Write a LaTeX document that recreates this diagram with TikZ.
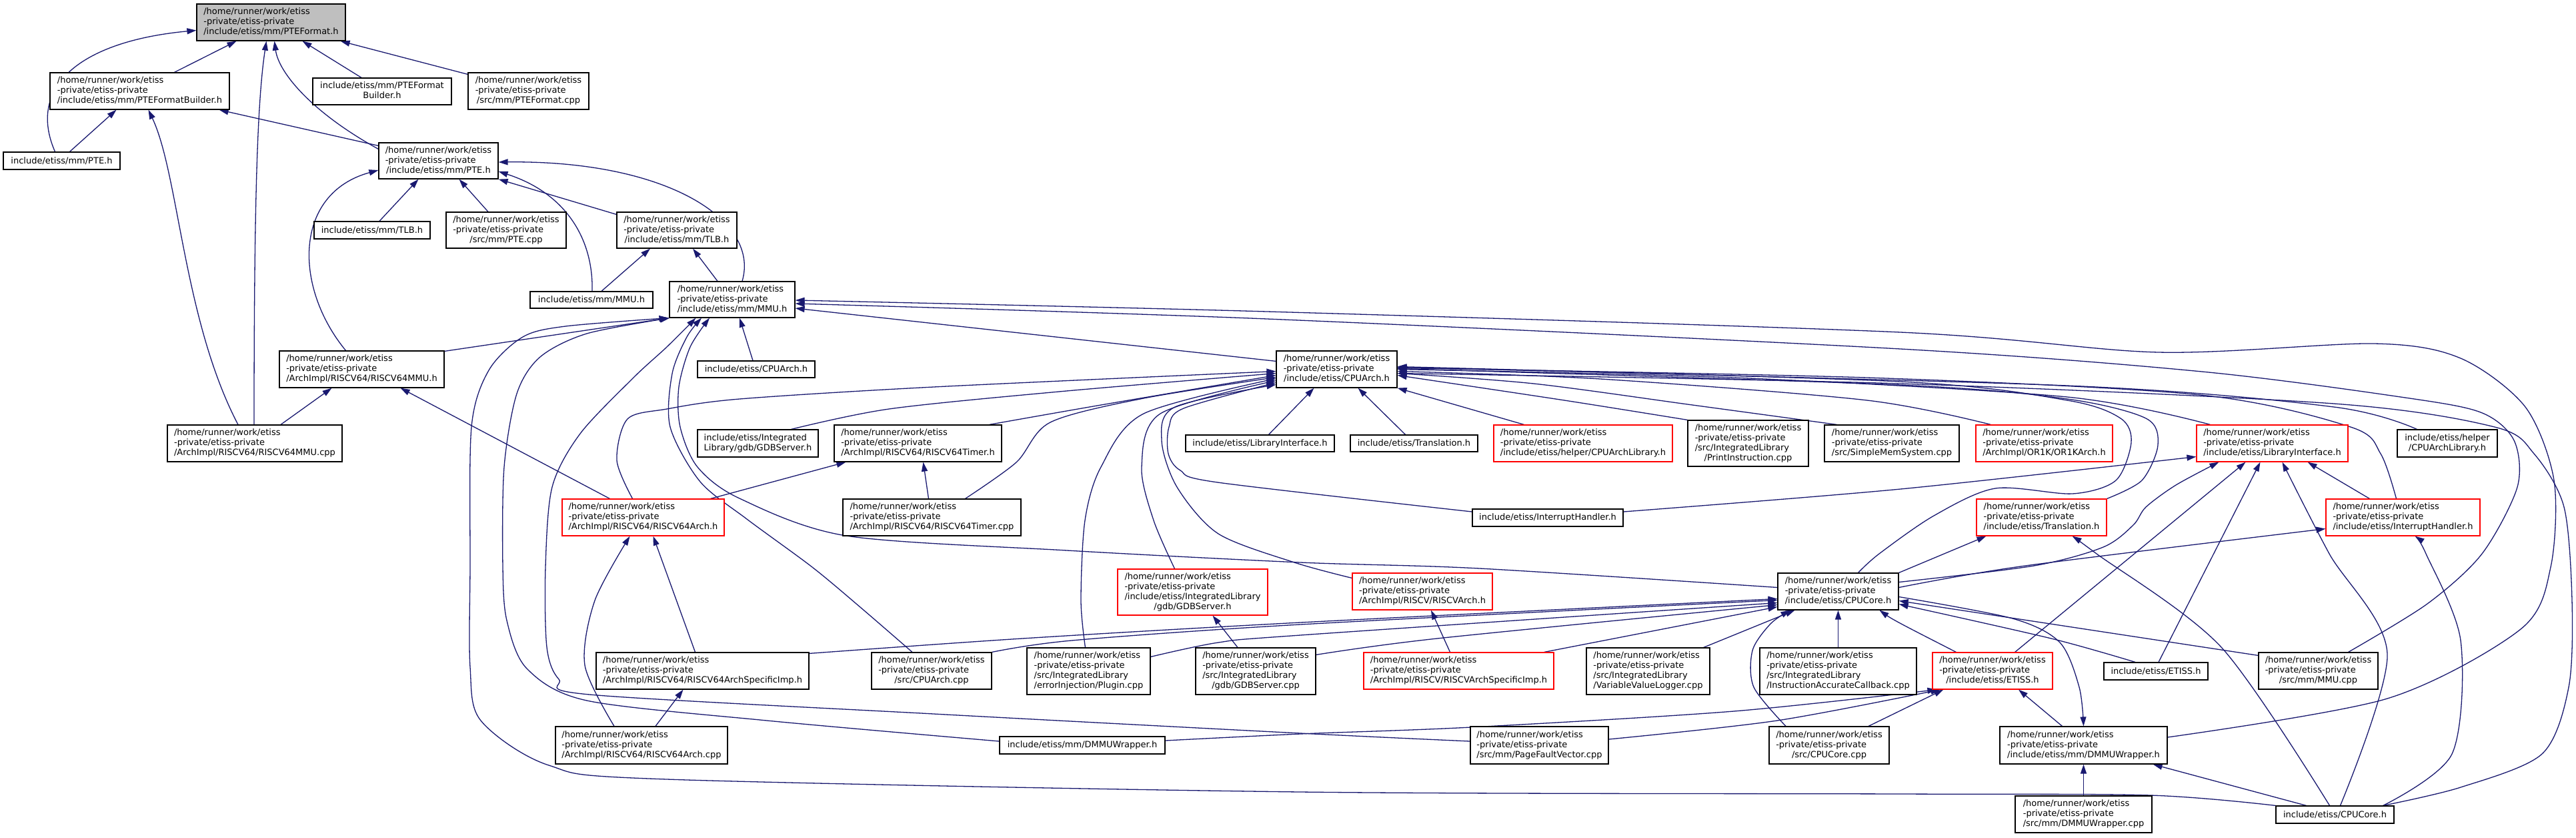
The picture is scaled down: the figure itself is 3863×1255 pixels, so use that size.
\documentclass[tikz,border=0pt]{standalone}
\usepackage{fontspec}
\setmainfont{DejaVu Sans}
\usetikzlibrary{arrows.meta,backgrounds}
\definecolor{edgeblue}{HTML}{191970}
\definecolor{boxgray}{HTML}{BFBFBF}
\newcommand{\nodefont}{\fontsize{13bp}{15bp}\selectfont}
\newcommand{\hp}{/home/runner/work/etiss\\-private/etiss-private}
\newcommand{\mlab}[2]{\begin{tabular}{@{}l@{}}#1\\\multicolumn{1}{@{}c@{}}{#2}\end{tabular}}
\tikzset{
  nb/.style={draw=black, line width=1.2bp, fill=white, inner sep=0pt, font=\nodefont},
  nr/.style={nb, draw=red},
  e/.style={color=edgeblue, line width=1.3bp, -{Triangle[length=14bp,width=9bp]}},
}
\begin{document}
\begin{tikzpicture}[x=1bp,y=-1bp]
\useasboundingbox (0,0) rectangle (3863,1255);
% nodes
\node[nb,fill=boxgray,minimum width=223bp,minimum height=55bp] (n1) at (406.5,33.5) {\mlab{\hp}{/include/etiss/mm/PTEFormat.h}};
\node[nb,minimum width=269bp,minimum height=55bp] (n2) at (209.5,136.5) {\mlab{\hp}{/include/etiss/mm/PTEFormatBuilder.h}};
\node[nb,minimum width=208bp,minimum height=40bp] (n3) at (573,137) {\mlab{include/etiss/mm/PTEFormat}{Builder.h}};
\node[nb,minimum width=181bp,minimum height=55bp] (n4) at (792.5,136.5) {\mlab{\hp}{/src/mm/PTEFormat.cpp}};
\node[nb,minimum width=175bp,minimum height=26bp] (n5) at (92.5,241) {include/etiss/mm/PTE.h};
\node[nb,minimum width=179bp,minimum height=54bp] (n6) at (657.5,241) {\mlab{\hp}{/include/etiss/mm/PTE.h}};
\node[nb,minimum width=174bp,minimum height=26bp] (n7) at (558,345) {include/etiss/mm/TLB.h};
\node[nb,minimum width=180bp,minimum height=54bp] (n8) at (759,345) {\mlab{\hp}{/src/mm/PTE.cpp}};
\node[nb,minimum width=180bp,minimum height=54bp] (n9) at (1015,345) {\mlab{\hp}{/include/etiss/mm/TLB.h}};
\node[nb,minimum width=184bp,minimum height=25bp] (n10) at (887,449.5) {include/etiss/mm/MMU.h};
\node[nb,minimum width=188bp,minimum height=54bp] (n11) at (1098,449) {\mlab{\hp}{/include/etiss/mm/MMU.h}};
\node[nb,minimum width=247bp,minimum height=55bp] (n12) at (542.5,553.5) {\mlab{\hp}{/ArchImpl/RISCV64/RISCV64MMU.h}};
\node[nb,minimum width=176bp,minimum height=25bp] (n13) at (1134,553.5) {include/etiss/CPUArch.h};
\node[nb,minimum width=181bp,minimum height=55bp] (n14) at (2004.5,553.5) {\mlab{\hp}{/include/etiss/CPUArch.h}};
\node[nb,minimum width=262bp,minimum height=55bp] (n15) at (382,664.5) {\mlab{\hp}{/ArchImpl/RISCV64/RISCV64MMU.cpp}};
\node[nb,minimum width=181bp,minimum height=41bp] (n16) at (1136.5,664.5) {\mlab{include/etiss/Integrated}{Library/gdb/GDBServer.h}};
\node[nb,minimum width=251bp,minimum height=55bp] (n17) at (1376.5,664.5) {\mlab{\hp}{/ArchImpl/RISCV64/RISCV64Timer.h}};
\node[nb,minimum width=223bp,minimum height=25bp] (n18) at (1889.5,664.5) {include/etiss/LibraryInterface.h};
\node[nb,minimum width=191bp,minimum height=25bp] (n19) at (2120.5,664.5) {include/etiss/Translation.h};
\node[nr,minimum width=268bp,minimum height=55bp] (n20) at (2374,664.5) {\mlab{\hp}{/include/etiss/helper/CPUArchLibrary.h}};
\node[nb,minimum width=181bp,minimum height=69bp] (n21) at (2621.5,664.5) {\mlab{\hp\\/src/IntegratedLibrary}{/PrintInstruction.cpp}};
\node[nb,minimum width=202bp,minimum height=55bp] (n22) at (2837,664.5) {\mlab{\hp}{/src/SimpleMemSystem.cpp}};
\node[nr,minimum width=205bp,minimum height=55bp] (n23) at (3065.5,664.5) {\mlab{\hp}{/ArchImpl/OR1K/OR1KArch.h}};
\node[nr,minimum width=227bp,minimum height=55bp] (n24) at (3407.5,664.5) {\mlab{\hp}{/include/etiss/LibraryInterface.h}};
\node[nb,minimum width=150bp,minimum height=41bp] (n25) at (3670,664.5) {\mlab{include/etiss/helper}{/CPUArchLibrary.h}};
\node[nr,minimum width=243bp,minimum height=55bp] (n26) at (964.5,775.5) {\mlab{\hp}{/ArchImpl/RISCV64/RISCV64Arch.h}};
\node[nb,minimum width=267bp,minimum height=55bp] (n27) at (1397.5,775.5) {\mlab{\hp}{/ArchImpl/RISCV64/RISCV64Timer.cpp}};
\node[nb,minimum width=226bp,minimum height=26bp] (n28) at (2321,776) {include/etiss/InterruptHandler.h};
\node[nr,minimum width=195bp,minimum height=55bp] (n29) at (3061.5,775.5) {\mlab{\hp}{/include/etiss/Translation.h}};
\node[nr,minimum width=231bp,minimum height=55bp] (n30) at (3603.5,775.5) {\mlab{\hp}{/include/etiss/InterruptHandler.h}};
\node[nr,minimum width=225bp,minimum height=69bp] (n31) at (1788.5,887.5) {\mlab{\hp\\/include/etiss/IntegratedLibrary}{/gdb/GDBServer.h}};
\node[nr,minimum width=210bp,minimum height=55bp] (n32) at (2133,886.5) {\mlab{\hp}{/ArchImpl/RISCV/RISCVArch.h}};
\node[nb,minimum width=181bp,minimum height=55bp] (n33) at (2756.5,886.5) {\mlab{\hp}{/include/etiss/CPUCore.h}};
\node[nb,minimum width=319bp,minimum height=55bp] (n34) at (1053.5,1005.5) {\mlab{\hp}{/ArchImpl/RISCV64/RISCV64ArchSpecificImp.h}};
\node[nb,minimum width=180bp,minimum height=55bp] (n35) at (1397,1005.5) {\mlab{\hp}{/src/CPUArch.cpp}};
\node[nb,minimum width=185bp,minimum height=70bp] (n36) at (1632.5,1006) {\mlab{\hp\\/src/IntegratedLibrary}{/errorInjection/Plugin.cpp}};
\node[nb,minimum width=180bp,minimum height=70bp] (n37) at (1883,1006) {\mlab{\hp\\/src/IntegratedLibrary}{/gdb/GDBServer.cpp}};
\node[nr,minimum width=285bp,minimum height=55bp] (n38) at (2187.5,1005.5) {\mlab{\hp}{/ArchImpl/RISCV/RISCVArchSpecificImp.h}};
\node[nb,minimum width=185bp,minimum height=70bp] (n39) at (2471.5,1006) {\mlab{\hp\\/src/IntegratedLibrary}{/VariableValueLogger.cpp}};
\node[nb,minimum width=235bp,minimum height=70bp] (n40) at (2756.5,1006) {\mlab{\hp\\/src/IntegratedLibrary}{/InstructionAccurateCallback.cpp}};
\node[nr,minimum width=180bp,minimum height=55bp] (n41) at (2988,1005.5) {\mlab{\hp}{/include/etiss/ETISS.h}};
\node[nb,minimum width=156bp,minimum height=26bp] (n42) at (3233,1006) {include/etiss/ETISS.h};
\node[nb,minimum width=179bp,minimum height=55bp] (n43) at (3476.5,1005.5) {\mlab{\hp}{/src/mm/MMU.cpp}};
\node[nb,minimum width=258bp,minimum height=56bp] (n44) at (962,1117) {\mlab{\hp}{/ArchImpl/RISCV64/RISCV64Arch.cpp}};
\node[nb,minimum width=248bp,minimum height=26bp] (n45) at (1623,1117) {include/etiss/mm/DMMUWrapper.h};
\node[nb,minimum width=207bp,minimum height=56bp] (n46) at (2308.5,1117) {\mlab{\hp}{/src/mm/PageFaultVector.cpp}};
\node[nb,minimum width=180bp,minimum height=56bp] (n47) at (2743,1117) {\mlab{\hp}{/src/CPUCore.cpp}};
\node[nb,minimum width=251bp,minimum height=56bp] (n48) at (3124.5,1117) {\mlab{\hp}{/include/etiss/mm/DMMUWrapper.h}};
\node[nb,minimum width=205bp,minimum height=55bp] (n49) at (3124.5,1220.5) {\mlab{\hp}{/src/mm/DMMUWrapper.cpp}};
\node[nb,minimum width=177bp,minimum height=26bp] (n50) at (3501.5,1221) {include/etiss/CPUCore.h};

\begin{pgfonlayer}{background}
\fill[white] (0,0) rectangle (3863,1255);
% into PTEFormat.h
\draw[e] ([xshift=-10bp]n5.north) .. controls (40,130) and (120,62) .. ([yshift=-12bp]n1.west);
\draw[e] ([xshift=52bp]n2.north) -- ([xshift=-52bp]n1.south);
\draw[e] ([xshift=-1bp]n15.north) .. controls (381,300) and (386,150) .. ([xshift=-7bp]n1.south);
\draw[e] ([yshift=-10bp]n6.north west) .. controls (470,170) and (418,110) .. ([xshift=5bp]n1.south);
\draw[e] ([xshift=-31bp]n3.north) -- ([xshift=47bp]n1.south);
\draw[e] ([yshift=-3bp]n4.north west) -- ([xshift=-8bp]n1.south east);
% into PTEFormatBuilder.h
\draw[e] ([xshift=12bp]n5.north) -- ([xshift=-35bp]n2.south);
\draw[e] ([xshift=-25bp]n15.north) .. controls (275,480) and (268,260) .. ([xshift=13bp]n2.south);
\draw[e] ([yshift=-5bp]n6.north west) -- ([xshift=-16bp]n2.south east);
% into PTE.h
\draw[e] ([xshift=-24bp]n12.north) .. controls (440,430) and (440,290) .. ([yshift=-14bp]n6.west);
\draw[e] ([xshift=11bp]n7.north) -- ([xshift=-30bp]n6.south);
\draw[e] ([xshift=-27bp]n8.north) -- ([xshift=31bp]n6.south);
\draw[e] ([yshift=-4bp]n9.north west) -- (n6.south east);
\draw[e] ([xshift=1bp]n10.north) .. controls (890,360) and (850,290) .. ([yshift=-16bp]n6.east);
\draw[e] ([xshift=15bp]n11.north) .. controls (1140,330) and (1000,240) .. ([yshift=-2bp]n6.east);
% into TLB.h
\draw[e] ([xshift=15bp]n10.north) -- ([xshift=-40bp]n9.south);
\draw[e] ([xshift=-22bp]n11.north) -- ([xshift=24bp]n9.south);
% into MMU.h
\draw[e] ([yshift=-1bp]n12.north east) -- (n11.south west);
\draw[e] plot[smooth] coordinates {(n50.north west) (3225,1192) (2850,1190) (1950,1187) (1000,1168) (823,1147) (721,1080) (705,1000) (705,850) (707,640) (733,555) (784,505) (848,489) ([xshift=-1bp]n11.south west)};
\draw[e] plot[smooth] coordinates {([yshift=6bp]n45.west) (1150,1080) (880,1050) (790,1002) (760,930) (754,850) (756,700) (775,590) (810,535) (880,500) ([xshift=1bp]n11.south west)};
\draw[e] plot[smooth] coordinates {([yshift=6bp]n46.west) (1950,1099) (1400,1070) (884,1041) (838,1018) (820,970) (818,850) (828,730) (870,650) (950,566) (1000,520) ([xshift=40bp]n11.south west)};
\draw[e] ([xshift=-5bp]n13.north) -- ([xshift=11bp]n11.south);
\draw[e] ([yshift=-16bp]n14.north west) -- ([yshift=-13bp]n11.east);
\draw[e] plot[smooth] coordinates {([yshift=6bp]n33.west) (2219,852) (1950,843) (1600,825) (1269,803) (1109,747) (1046,700) (1020,640) (1018,580) (1035,520) ([xshift=-34bp]n11.south)};
\draw[e] plot[smooth] coordinates {([xshift=-29bp]n35.north) (1290,910) (1218,850) (1120,778) (1050,722) (1005,640) (1008,560) (1030,505) ([xshift=-46bp]n11.south)};
\draw[e] plot[smooth] coordinates {([xshift=45bp]n43.north) (3640,905) (3722,830) (3775,730) (3770,660) (3720,618) (3600,595) (3302,557) (2850,523) (1900,478) ([yshift=-6bp]n11.east)};
\draw[e] plot[smooth] coordinates {([yshift=12bp]n48.east) (3580,1047) (3780,943) (3825,850) (3830,720) (3787,610) (3690,537) (3560,515) (3237,528) (2850,498) (1900,467) ([yshift=-1bp]n11.east)};
% into CPUArch.h (left)
\draw[e] plot[smooth] coordinates {([xshift=-16bp]n26.north) (925,690) (941,628) (1000,613) (1109,598) (1400,580) ([yshift=-3bp]n14.west)};
\draw[e] plot[smooth] coordinates {([xshift=50bp]n16.north) (1333,613) (1588,587) ([yshift=-6bp]n14.west)};
\draw[e] plot[smooth] coordinates {([xshift=-19bp]n17.north east) (1651,607) ([yshift=-9bp]n14.west)};
\draw[e] plot[smooth] coordinates {([xshift=50bp]n27.north) (1524,693) (1575,633) (1715,597) ([yshift=-12bp]n14.west)};
\draw[e] plot[smooth] coordinates {([xshift=-5bp]n36.north) (1621,900) (1627,780) (1651,700) (1715,620) ([yshift=-14bp]n14.west)};
\draw[e] plot[smooth] coordinates {([xshift=-27bp]n31.north) (1730,780) (1712,700) (1740,620) ([yshift=-17bp]n14.west)};
\draw[e] plot[smooth] coordinates {([yshift=9bp]n28.west) (1826,723) (1770,705) (1752,680) (1753,640) (1775,612) ([yshift=-20bp]n14.west)};
\draw[e] plot[smooth] coordinates {([yshift=-8bp]n32.north west) (1941,843) (1827,800) (1765,730) (1742,660) (1762,610) ([yshift=-23bp]n14.west)};
% into CPUArch.h (bottom / right)
\draw[e] ([xshift=13bp]n18.north) -- ([xshift=-34bp]n14.south);
\draw[e] ([xshift=-13bp]n19.north) -- ([xshift=32bp]n14.south);
\draw[e] ([xshift=46bp]n20.north west) -- (n14.south east);
\draw[e] plot[smooth] coordinates {(n21.north west) (2346,600) ([yshift=-9bp]n14.east)};
\draw[e] plot[smooth] coordinates {([xshift=19bp]n22.north west) (2538,607) (2300,575) ([yshift=-6bp]n14.east)};
\draw[e] plot[smooth] coordinates {([xshift=23bp]n23.north west) (2800,600) (2400,568) ([yshift=-3bp]n14.east)};
\draw[e] plot[smooth] coordinates {([xshift=21bp]n24.north west) (3100,595) (2600,566) (n14.east)};
\draw[e] plot[smooth] coordinates {([xshift=30bp]n25.north west) (3500,610) (3100,578) ([yshift=3bp]n14.east)};
\draw[e] plot[smooth] coordinates {([xshift=-10bp]n30.north) (3570,680) (3525,640) (3300,592) (2800,566) ([yshift=2bp]n14.east)};
\draw[e] plot[smooth] coordinates {(n29.north east) (3212,720) (3236,667) (3218,627) (3100,598) (2850,577) ([yshift=1bp]n14.east)};
\draw[e] plot[smooth] coordinates {([xshift=30bp]n33.north) (2818,830) (2900,773) (2992,732) (3108,740) (3173,720) (3196,663) (3180,627) (3100,600) (2850,572) ([yshift=4bp]n14.east)};
\draw[e] plot[smooth] coordinates {([xshift=-17bp]n50.north east) (3690,1180) (3812,1130) (3852,1030) (3857,900) (3845,760) (3800,680) (3741,640) (3500,605) (2850,575) ([yshift=-6bp]n14.east)};
% RISCV64 group
\draw[e] ([xshift=-21bp]n26.north east) -- ([xshift=18bp]n17.south west);
\draw[e] ([xshift=-5bp]n27.north) -- ([xshift=8bp]n17.south);
\draw[e] ([xshift=72bp]n26.north west) -- ([xshift=-66bp]n12.south east);
\draw[e] ([xshift=39bp]n15.north) -- ([xshift=-45bp]n12.south);
\draw[e] ([xshift=-11bp]n34.north) -- ([xshift=15bp]n26.south);
\draw[e] plot[smooth] coordinates {([xshift=-41bp]n44.north) (877,997) (892,900) ([xshift=-20bp]n26.south)};
\draw[e] ([xshift=21bp]n44.north) -- ([xshift=-29bp]n34.south);
\draw[e] ([xshift=-27bp]n37.north) -- ([xshift=30bp]n31.south);
\draw[e] ([xshift=-13bp]n38.north) -- ([xshift=13bp]n32.south);
% into CPUCore.h (full)
\draw[e] plot[smooth] coordinates {([yshift=-14bp]n36.north east) (1827,963) (1950,952) ([yshift=-17bp]n33.west)};
\draw[e] plot[smooth] coordinates {([yshift=-2bp]n34.north east) (1533,957) (1950,933) ([yshift=-11bp]n33.west)};
\draw[e] plot[smooth] coordinates {(n35.north east) (1607,960) (1950,936) ([yshift=-13bp]n33.west)};
\draw[e] plot[smooth] coordinates {([yshift=-11bp]n37.north east) (2155,957) ([yshift=-20bp]n33.west)};
\draw[e] ([xshift=-15bp]n38.north east) -- ([yshift=-23bp]n33.west);
\draw[e] ([xshift=-10bp]n39.north east) -- ([xshift=-65bp]n33.south);
\draw[e] (n40.north) -- (n33.south);
\draw[e] plot[smooth] coordinates {([xshift=-65bp]n47.north) (2630,1030) (2628,975) (2655,935) ([xshift=-72bp]n33.south)};
\draw[e] ([xshift=36bp]n41.north west) .. controls (2880,950) and (2840,930) .. ([xshift=62bp]n33.south);
\draw[e] ([yshift=-5bp]n43.north west) -- ([yshift=-14bp]n33.east);
\draw[e] plot[smooth] coordinates {([xshift=-31bp]n42.north) (3076,957) ([yshift=-19bp]n33.east)};
% lower right
\draw[e] plot[smooth] coordinates {([yshift=-8bp]n33.east) (3018,927) (3089,963) (3118,1030) (n48.north)};
\draw[e] ([xshift=-32bp]n48.north) -- ([xshift=39bp]n41.south);
\draw[e] (n49.north) -- (n48.south);
\draw[e] ([xshift=-43bp]n50.north) -- ([xshift=-22bp]n48.south east);
\draw[e] ([xshift=59bp]n47.north) -- ([xshift=17bp]n41.south west);
\draw[e] plot[smooth] coordinates {([yshift=9bp]n46.east) (2665,1080) ([xshift=12bp]n41.south west)};
\draw[e] plot[smooth] coordinates {([yshift=7bp]n45.east) (1950,1100) (2206,1090) (2600,1066) ([xshift=7bp]n41.south west)};
\draw[e] ([xshift=-57bp]n41.north east) -- ([xshift=-40bp]n24.south);
\draw[e] ([xshift=4bp]n42.north) -- ([xshift=-18bp]n24.south);
\draw[e] plot[smooth] coordinates {([xshift=8bp]n50.north) (3580,980) (3493,830) ([xshift=15bp]n24.south)};
\draw[e] plot[smooth] coordinates {([xshift=-17bp]n50.north east) (3677,1130) (3690,960) (3638,830) ([xshift=18bp]n30.south)};
\draw[e] plot[smooth] coordinates {([xshift=-8bp]n50.north) (3331,970) (3144,830) ([xshift=46bp]n29.south)};
\draw[e] plot[smooth] coordinates {([yshift=14bp]n33.east) (3050,848) (3154,820) (3199,787) (3218,760) (3263,727) ([xshift=34bp]n24.south west)};
\draw[e] plot[smooth] coordinates {([yshift=6bp]n33.east) (3037,848) ([yshift=-17bp]n30.west)};
\draw[e] (n33.north east) -- ([xshift=15bp]n29.south west);
\draw[e] ([xshift=66bp]n30.north west) -- ([xshift=-61bp]n24.south east);
\draw[e] plot[smooth] coordinates {([yshift=9bp]n28.east) (2850,733) ([yshift=-20bp]n24.west)};
\end{pgfonlayer}
\end{tikzpicture}
\end{document}
